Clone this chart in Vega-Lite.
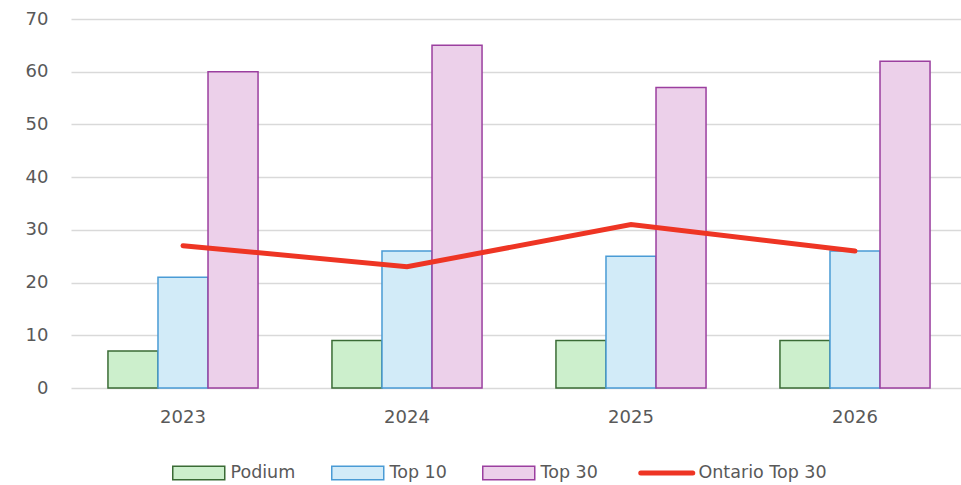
{
  "$schema": "https://vega.github.io/schema/vega-lite/v6.json",
  "autosize": "none",
  "width": 890,
  "height": 369,
  "padding": {"left": 71, "top": 19, "right": 0, "bottom": 97},
  "background": "white",
  "config": {
    "view": {"stroke": null},
    "font": "DejaVu Sans"
  },
  "data": {
    "values": [
      {"year": "2023", "series": "Podium", "value": 7},
      {"year": "2024", "series": "Podium", "value": 9},
      {"year": "2025", "series": "Podium", "value": 9},
      {"year": "2026", "series": "Podium", "value": 9},
      {"year": "2023", "series": "Top 10", "value": 21},
      {"year": "2024", "series": "Top 10", "value": 26},
      {"year": "2025", "series": "Top 10", "value": 25},
      {"year": "2026", "series": "Top 10", "value": 26},
      {"year": "2023", "series": "Top 30", "value": 60},
      {"year": "2024", "series": "Top 30", "value": 65},
      {"year": "2025", "series": "Top 30", "value": 57},
      {"year": "2026", "series": "Top 30", "value": 62},
      {"year": "2023", "series": "Ontario Top 30", "value": 27},
      {"year": "2024", "series": "Ontario Top 30", "value": 23},
      {"year": "2025", "series": "Ontario Top 30", "value": 31},
      {"year": "2026", "series": "Ontario Top 30", "value": 26}
    ]
  },
  "encoding": {
    "x": {
      "field": "year",
      "type": "nominal",
      "scale": {"range": [0, 896], "paddingInner": 0.33, "paddingOuter": 0.165},
      "axis": {
        "title": null,
        "labelAngle": 0,
        "labelFontSize": 18,
        "labelColor": "#595959",
        "labelPadding": 20,
        "ticks": false,
        "domain": false,
        "grid": false
      }
    },
    "y": {
      "field": "value",
      "type": "quantitative",
      "scale": {"domain": [0, 70], "nice": false},
      "axis": {
        "title": null,
        "values": [0, 10, 20, 30, 40, 50, 60, 70],
        "labelFontSize": 18,
        "labelColor": "#595959",
        "labelPadding": 23,
        "ticks": false,
        "domain": false,
        "grid": true,
        "gridColor": "#d9d9d9",
        "gridWidth": 1.5
      }
    }
  },
  "layer": [
    {
      "transform": [{"filter": "datum.series !== 'Ontario Top 30'"}],
      "mark": {"type": "bar", "strokeWidth": 1.5},
      "encoding": {
        "xOffset": {
          "field": "series",
          "type": "nominal",
          "sort": ["Podium", "Top 10", "Top 30"],
          "scale": {"paddingInner": 0, "paddingOuter": 0}
        },
        "fill": {
          "field": "series",
          "type": "nominal",
          "scale": {
            "domain": ["Podium", "Top 10", "Top 30", "Ontario Top 30"],
            "range": ["#ccefcc", "#d2ebf8", "#ecd0ea", "#ee3524"]
          },
          "legend": {
            "title": null,
            "orient": "none",
            "direction": "horizontal",
            "legendX": 119,
            "legendY": 445,
            "labelFontSize": 17.5,
            "labelColor": "#595959",
            "labelOffset": 23,
            "columnPadding": 32,
            "symbolSize": 2704,
            "symbolType": "M-1,-0.26H1V0.26H-1Z",
            "symbolOpacity": 1,
            "encode": {
              "symbols": {
                "update": {
                  "shape": {"signal": "datum.value === 'Ontario Top 30' ? 'M-1,0H1' : 'M-1,-0.26H1V0.26H-1Z'"},
                  "stroke": {"signal": "datum.value === 'Podium' ? '#3a6b35' : datum.value === 'Top 10' ? '#4a9bd5' : datum.value === 'Top 30' ? '#9b3f9f' : '#ee3524'"},
                  "strokeWidth": {"signal": "datum.value === 'Ontario Top 30' ? 5 : 1.5"},
                  "strokeCap": {"value": "round"}
                }
              }
            }
          }
        },
        "stroke": {
          "field": "series",
          "type": "nominal",
          "scale": {
            "domain": ["Podium", "Top 10", "Top 30", "Ontario Top 30"],
            "range": ["#3a6b35", "#4a9bd5", "#9b3f9f", "#ee3524"]
          },
          "legend": null
        }
      }
    },
    {
      "transform": [{"filter": "datum.series === 'Ontario Top 30'"}],
      "mark": {"type": "line", "strokeWidth": 5, "strokeCap": "round"},
      "encoding": {
        "stroke": {
          "field": "series",
          "type": "nominal",
          "legend": null
        }
      }
    }
  ]
}
